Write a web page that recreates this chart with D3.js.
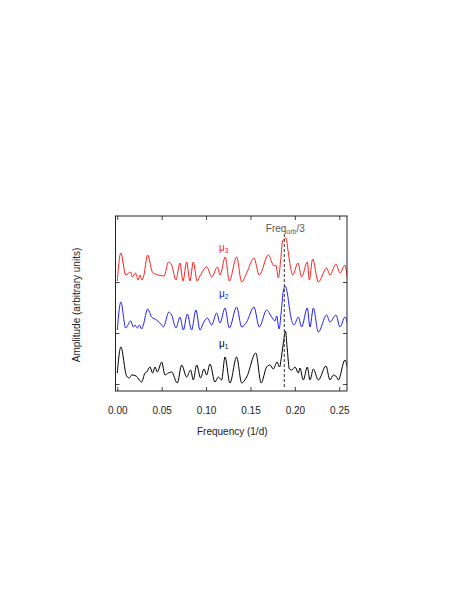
<!DOCTYPE html>
<html>
<head>
<meta charset="utf-8">
<script src="https://cdn.jsdelivr.net/npm/d3@7"></script>
<style>
  html, body { margin: 0; padding: 0; background: #fff; }
  svg { display: block; font-family: "Liberation Sans", Arial, Helvetica, sans-serif; }
</style>
</head>
<body>
<svg id="chart" width="463" height="608"></svg>
<script>
// ---- data ----
const xTicks = [0.00, 0.05, 0.10, 0.15, 0.20, 0.25];
const xTickLabels = ["0.00", "0.05", "0.10", "0.15", "0.20", "0.25"];
const seriesNames = ["μ1", "μ2", "μ3"];
const seriesColors = ["#000000", "#2020ff", "#ff2020"];
const seriesOffsets = [0, 51, 102];
const markerFreq = 0.1881;

const freqMu3 = [0.0000,0.0040,0.0095,0.0150,0.0170,0.0205,0.0235,0.0255,0.0278,0.0295,0.0342,0.0395,0.0425,0.0462,0.0525,0.0578,0.0612,0.0661,0.0706,0.0740,0.0781,0.0818,0.0856,0.0900,0.0931,0.1008,0.1063,0.1128,0.1157,0.1216,0.1262,0.1344,0.1401,0.1457,0.1539,0.1599,0.1701,0.1765,0.1785,0.1815,0.1838,0.1862,0.1882,0.1900,0.1925,0.1950,0.1975,0.2035,0.2076,0.2140,0.2163,0.2200,0.2264,0.2358,0.2395,0.2463,0.2508,0.2564,0.2590];
const ampMu3  = [1,29,7,10,5,9,2,7,2,5,27,10,8,7,6,20,17,2,19,1,20,1,20,1,6,15,5,15,7,25,1,25,0,9,24,7,27,16,17,4,20,41,43,44,30,15,7,19,5,20,2,23,0,14,7,18,9,17,4];

const freqMu2 = [0.0000,0.0040,0.0095,0.0151,0.0181,0.0199,0.0226,0.0248,0.0274,0.0293,0.0342,0.0387,0.0443,0.0500,0.0518,0.0582,0.0612,0.0661,0.0706,0.0744,0.0789,0.0837,0.0886,0.0931,0.0969,0.1014,0.1063,0.1119,0.1157,0.1213,0.1262,0.1344,0.1401,0.1457,0.1539,0.1599,0.1682,0.1738,0.1776,0.1795,0.1822,0.1845,0.1870,0.1892,0.1915,0.1940,0.1960,0.1990,0.2039,0.2076,0.2140,0.2170,0.2208,0.2264,0.2358,0.2395,0.2463,0.2508,0.2564,0.2590];
const ampMu2  = [3,31,5,12,6,8,5,8,4,8,24,16,13,8,6,21,18,5,16,3,19,3,23,3,10,15,8,20,10,25,5,26,6,11,26,6,23,16,12,17,4,20,42,47,40,24,14,8,16,6,25,6,25,1,18,11,18,6,16,10];

const freqMu1 = [0.0000,0.0040,0.0105,0.0135,0.0162,0.0212,0.0248,0.0274,0.0312,0.0331,0.0368,0.0398,0.0425,0.0451,0.0500,0.0537,0.0575,0.0612,0.0676,0.0725,0.0781,0.0826,0.0856,0.0894,0.0939,0.0976,0.1006,0.1044,0.1100,0.1138,0.1175,0.1213,0.1269,0.1344,0.1401,0.1457,0.1560,0.1620,0.1682,0.1720,0.1757,0.1800,0.1828,0.1850,0.1872,0.1894,0.1915,0.1938,0.1964,0.2001,0.2039,0.2057,0.2095,0.2140,0.2170,0.2208,0.2264,0.2350,0.2395,0.2433,0.2470,0.2489,0.2564,0.2590];
const ampMu1  = [11,37,8,6,9,8,4,2,11,12,17,11,17,12,22,9,11,12,1,19,7,14,4,19,6,15,9,20,2,7,4,27,1,27,1,7,31,1,17,19,15,22,17,28,42,53,34,15,14,17,11,16,4,17,4,15,4,18,4,9,7,4,24,17];

// ---- chart ----
const svg = d3.select("#chart");
const box = {left: 115.5, right: 347, top: 216, bottom: 391};

const x = d3.scaleLinear().domain([-0.002, 0.2587]).range([box.left, box.right]);
const y = d3.scaleLinear().domain([-7, 168]).range([box.bottom, box.top]);

const series = [
  {name: seriesNames[0], color: seriesColors[0], off: seriesOffsets[0], f: freqMu1, a: ampMu1},
  {name: seriesNames[1], color: seriesColors[1], off: seriesOffsets[1], f: freqMu2, a: ampMu2},
  {name: seriesNames[2], color: seriesColors[2], off: seriesOffsets[2], f: freqMu3, a: ampMu3}
];

const line = d3.line()
  .x(d => x(d[0]))
  .y(d => y(d[1]))
  .curve(d3.curveMonotoneX);

svg.append("clipPath").attr("id", "clip")
  .append("rect")
  .attr("x", box.left).attr("y", box.top)
  .attr("width", box.right - box.left).attr("height", box.bottom - box.top);

const g = svg.append("g").attr("clip-path", "url(#clip)");
series.forEach(s => {
  const pts = s.f.map((fv, i) => [fv, s.a[i] + s.off]);
  g.append("path")
    .attr("d", line(pts))
    .attr("fill", "none")
    .attr("stroke", s.color)
    .attr("stroke-width", 1);
});

// dashed marker line
svg.append("line")
  .attr("x1", x(markerFreq)).attr("x2", x(markerFreq))
  .attr("y1", 234).attr("y2", y(-3))
  .attr("stroke", "#333").attr("stroke-width", 1)
  .attr("stroke-dasharray", "3,2");

// axes
const axB = d3.axisBottom(x).tickValues(xTicks).tickSize(-4).tickPadding(16)
  .tickFormat((d, i) => xTickLabels[i]);
const gb = svg.append("g").attr("transform", `translate(0,${box.bottom})`).call(axB);
const axT = d3.axisTop(x).tickValues(xTicks).tickSize(-4).tickFormat("");
const gt = svg.append("g").attr("transform", `translate(0,${box.top})`).call(axT);
const axL = d3.axisLeft(y).tickValues(seriesOffsets).tickSize(-4).tickFormat("");
const gl = svg.append("g").attr("transform", `translate(${box.left},0)`).call(axL);
const axR = d3.axisRight(y).tickValues(seriesOffsets).tickSize(-4).tickFormat("");
const gr = svg.append("g").attr("transform", `translate(${box.right},0)`).call(axR);
[gb, gt, gl, gr].forEach(ax => {
  ax.select(".domain").remove();
  ax.selectAll(".tick line").attr("stroke", "#444");
});
gb.selectAll(".tick text")
  .attr("font-size", 10)
  .attr("fill", "#222")
  .attr("font-family", "Liberation Sans, Arial, sans-serif");

// frame
svg.append("rect")
  .attr("x", box.left).attr("y", box.top)
  .attr("width", box.right - box.left).attr("height", box.bottom - box.top)
  .attr("fill", "none").attr("stroke", "#222").attr("stroke-width", 1);

// axis titles
svg.append("text")
  .attr("x", (box.left + box.right) / 2 + 1).attr("y", 435)
  .attr("text-anchor", "middle").attr("font-size", 10).attr("fill", "#222")
  .text("Frequency (1/d)");
svg.append("text")
  .attr("transform", `translate(80,305) rotate(-90)`)
  .attr("text-anchor", "middle").attr("font-size", 10).attr("fill", "#222")
  .text("Amplitude (arbitrary units)");

// marker label
const ml = svg.append("text")
  .attr("x", x(markerFreq) + 1).attr("y", 232)
  .attr("text-anchor", "middle").attr("font-size", 10).attr("fill", "#555");
ml.append("tspan").text("Freq");
ml.append("tspan").attr("font-size", 7).attr("dy", 2).text("orb");
ml.append("tspan").attr("dy", -2).text("/3");

// series labels
const labelY = [347, 297, 251];
series.forEach((s, i) => {
  const t = svg.append("text")
    .attr("x", 219).attr("y", labelY[i])
    .attr("font-size", 10).attr("fill", s.color);
  t.append("tspan").text("μ");
  t.append("tspan").attr("font-size", 6.5).attr("dy", 1.5).text(s.name.slice(1));
});
</script>
</body>
</html>
